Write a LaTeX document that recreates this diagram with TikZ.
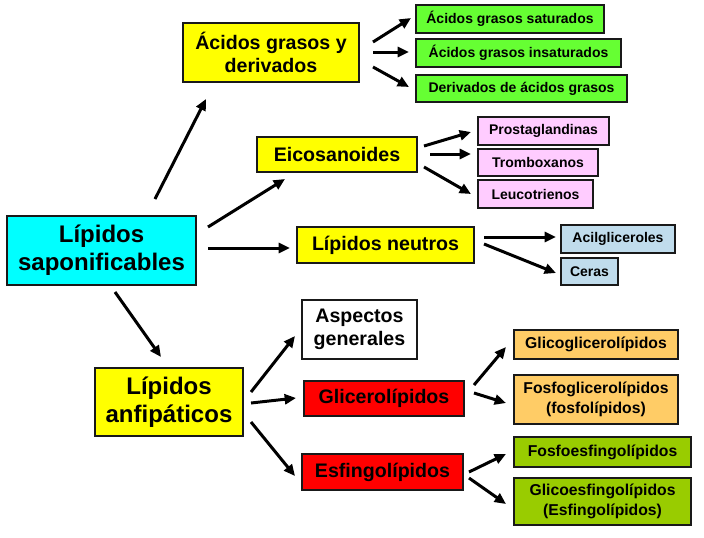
\documentclass[tikz,border=0pt]{standalone}
\usepackage{fontspec}
\setmainfont{Liberation Sans}
\usetikzlibrary{arrows.meta}

\definecolor{cian}{HTML}{00FFFF}
\definecolor{amarillo}{HTML}{FFFF00}
\definecolor{verde}{HTML}{66FF33}
\definecolor{rosa}{HTML}{FFCCFF}
\definecolor{celeste}{HTML}{C0DCEC}
\definecolor{naranja}{HTML}{FFCC66}
\definecolor{oliva}{HTML}{99CC00}
\definecolor{rojo}{HTML}{FF0000}

\begin{document}
\begin{tikzpicture}[x=0.75pt,y=-0.75pt,
  caja/.style 2 args={draw=black!90, line width=1.5pt, inner sep=0pt, align=center,
    minimum width=#1*0.75pt, minimum height=#2*0.75pt},
  grande/.style={font=\fontsize{18pt}{21pt}\selectfont\bfseries},
  medio/.style={font=\fontsize{14.7pt}{17.5pt}\selectfont\bfseries},
  chico/.style={font=\fontsize{10.5pt}{12pt}\selectfont\bfseries},
  mediano/.style={font=\fontsize{11.8pt}{15pt}\selectfont\bfseries},
  flecha/.style={line width=2.25pt, -{Triangle[length=8.5pt,width=7.5pt]}}]

\useasboundingbox (0,0) rectangle (704,537);

%SAPONIFICABLES
\node[caja={189}{69}, fill=cian, grande] (sap) at (101.5,250.5) {Lípidos\\saponificables};
\node[caja={176}{59}, fill=amarillo, medio] (acg) at (271,52.5) {Ácidos grasos y\\derivados};
\node[caja={160}{35}, fill=amarillo, medio] (eic) at (337,154.5) {Eicosanoides};
\node[caja={177}{36}, fill=amarillo, medio] (neu) at (385.5,245) {Lípidos neutros};

\node[caja={188}{28}, fill=verde, chico] (sat) at (510,19) {Ácidos grasos saturados};
\node[caja={205}{28}, fill=verde, chico] (ins) at (518.5,53) {Ácidos grasos insaturados};
\node[caja={211}{27}, fill=verde, chico] (der) at (521.5,88.5) {Derivados de ácidos grasos};

\node[caja={131}{28}, fill=rosa, chico] (pro) at (543.5,131) {Prostaglandinas};
\node[caja={120}{27}, fill=rosa, chico] (tro) at (538,162.5) {Tromboxanos};
\node[caja={115}{28}, fill=rosa, chico] (leu) at (535.5,194) {Leucotrienos};

\node[caja={114}{28}, fill=celeste, chico] (aci) at (618,239) {Acilgliceroles};
\node[caja={57}{27}, fill=celeste, chico] (cer) at (589.5,271.5) {Ceras};

%ANFIPATICOS
\node[caja={148}{68}, fill=amarillo, grande] (anf) at (169,402) {Lípidos\\anfipáticos};
\node[caja={115}{59}, fill=white, medio] (asp) at (359.5,329.5) {Aspectos\\generales};
\node[caja={160}{35}, fill=rojo, medio] (gli) at (384,398.5) {Glicerolípidos};
\node[caja={161}{36}, fill=rojo, medio] (esf) at (382.5,472) {Esfingolípidos};

\node[caja={164}{29}, fill=naranja, mediano] (ggl) at (596,344.5) {Glicoglicerolípidos};
\node[caja={164}{49}, fill=naranja, mediano] (fgl) at (596,399.5) {Fosfoglicerolípidos\\(fosfolípidos)};
\node[caja={177}{30}, fill=oliva, mediano] (fes) at (602.5,452) {Fosfoesfingolípidos};
\node[caja={177}{47}, fill=oliva, mediano] (ges) at (602.5,501.5) {Glicoesfingolípidos\\(Esfingolípidos)};

%FLECHAS
\draw[flecha] ([shift={(53.5,-16)}]sap.north) -- ([shift={(24,16)}]acg.south west);
\draw[flecha] ([shift={(11,12)}]sap.north east) -- ([shift={(29,6)}]eic.south west);
\draw[flecha] ([shift={(11,-2.5)}]sap.east) -- ([shift={(-6,3)}]neu.west);
\draw[flecha] ([shift={(13.5,6)}]sap.south) -- ([shift={(-8,-10)}]anf.north);

\draw[flecha] ([shift={(13,-10.5)}]acg.east) -- ([shift={(-4,-1)}]sat.west);
\draw[flecha] ([shift={(13,-0.5)}]acg.east) -- ([shift={(-6,-1)}]ins.west);
\draw[flecha] ([shift={(13,14.5)}]acg.east) -- ([shift={(-6,-1.5)}]der.west);

\draw[flecha] ([shift={(6,-8.5)}]eic.east) -- ([shift={(-6,1)}]pro.west);
\draw[flecha] ([shift={(12,-0.5)}]eic.east) -- ([shift={(-6,-8.5)}]tro.west);
\draw[flecha] ([shift={(6,12.5)}]eic.east) -- ([shift={(-6,0)}]leu.west);

\draw[flecha] ([shift={(9,-8)}]neu.east) -- ([shift={(-4,-2)}]aci.west);
\draw[flecha] ([shift={(9,-1)}]neu.east) -- ([shift={(-4,1.5)}]cer.west);

\draw[flecha] ([shift={(7,-10)}]anf.east) -- ([shift={(-6,6.5)}]asp.west);
\draw[flecha] ([shift={(7,1)}]anf.east) -- ([shift={(-7,-0.5)}]gli.west);
\draw[flecha] ([shift={(7,20)}]anf.east) -- ([shift={(-6,4)}]esf.west);

\draw[flecha] ([shift={(9,-13.5)}]gli.east) -- ([shift={(-7,2.5)}]ggl.west);
\draw[flecha] ([shift={(9,-5.5)}]gli.east) -- ([shift={(-7,3.5)}]fgl.west);
\draw[flecha] ([shift={(5,0)}]esf.east) -- ([shift={(-7,2)}]fes.west);
\draw[flecha] ([shift={(5,6)}]esf.east) -- ([shift={(-7,2.5)}]ges.west);

\end{tikzpicture}
\end{document}
